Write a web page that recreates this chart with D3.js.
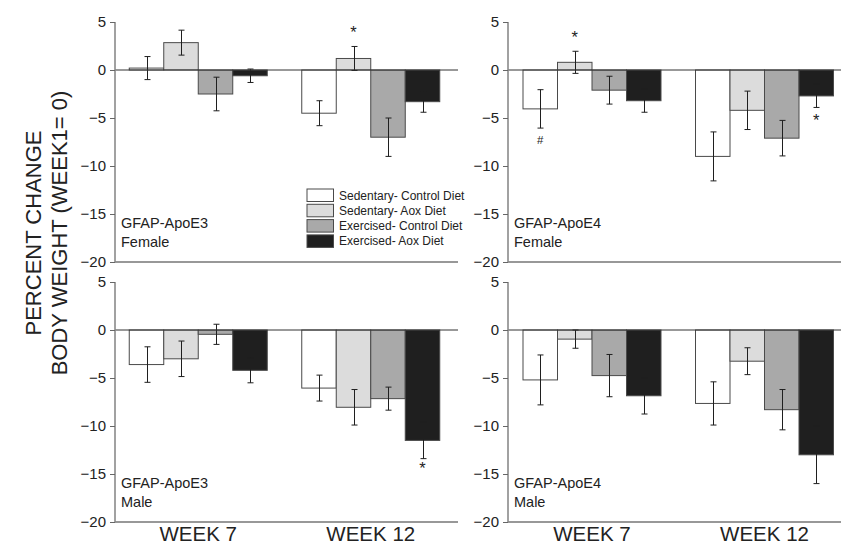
<!DOCTYPE html>
<html>
<head>
<meta charset="utf-8">
<script src="https://cdn.jsdelivr.net/npm/d3@7"></script>
<style>
  body { margin: 0; background: #fff; }
  svg { display: block; }
  text { font-family: "Liberation Sans", Arial, sans-serif; fill: #222; }
</style>
</head>
<body>
<svg id="chart" width="841" height="544"></svg>
<script>
// ---- data ---------------------------------------------------------------
const weeks = ["WEEK 7", "WEEK 12"];
const groups = ["Sedentary- Control Diet", "Sedentary- Aox Diet",
                "Exercised- Control Diet", "Exercised- Aox Diet"];
const groupColors = ["#ffffff", "#dcdcdc", "#a9a9a9", "#1f1f1f"];
const yTicks = [5, 0, -5, -10, -15, -20];

// mean percent change, one row per week, one entry per group
const e3FemaleMean = [[0.2, 2.85, -2.5, -0.6], [-4.5, 1.2, -7.0, -3.3]];
const e3FemaleSem  = [[1.2, 1.3, 1.75, 0.7], [1.3, 1.25, 2.0, 1.1]];
const e4FemaleMean = [[-4.05, 0.8, -2.1, -3.2], [-9.0, -4.2, -7.1, -2.7]];
const e4FemaleSem  = [[2.0, 1.15, 1.45, 1.2], [2.55, 2.0, 1.85, 1.2]];
const e3MaleMean   = [[-3.6, -3.0, -0.45, -4.2], [-6.05, -8.05, -7.15, -11.5]];
const e3MaleSem    = [[1.85, 1.85, 1.05, 1.3], [1.35, 1.85, 1.2, 1.9]];
const e4MaleMean   = [[-5.2, -0.95, -4.75, -6.85], [-7.65, -3.25, -8.3, -13.0]];
const e4MaleSem    = [[2.6, 0.95, 2.2, 1.9], [2.25, 1.4, 2.1, 3.0]];

const panelNames = ["GFAP-ApoE3\nFemale", "GFAP-ApoE4\nFemale",
                    "GFAP-ApoE3\nMale", "GFAP-ApoE4\nMale"];

// significance marks: panel index, week index, group index, symbol, y value
const marks = [
  [0, 1, 1, "*", 4.3],
  [1, 0, 0, "#", -7.3],
  [1, 0, 1, "*", 3.8],
  [1, 1, 3, "*", -4.9],
  [2, 1, 3, "*", -14.1]
];

// ---- layout -------------------------------------------------------------
const svg = d3.select("#chart");
const columns = [
  { axisX: 115, bandStart: 112, lineEnd: 458 },
  { axisX: 508, bandStart: 505.75, lineEnd: 841 }
];
const rows = [
  { top: 22, bottom: 262 },
  { top: 282, bottom: 522 }
];
const bandSpan = 345;

const panels = [
  { mean: e3FemaleMean, sem: e3FemaleSem, col: 0, row: 0 },
  { mean: e4FemaleMean, sem: e4FemaleSem, col: 1, row: 0 },
  { mean: e3MaleMean,   sem: e3MaleSem,   col: 0, row: 1 },
  { mean: e4MaleMean,   sem: e4MaleSem,   col: 1, row: 1 }
];

panels.forEach((p, pi) => {
  const c = columns[p.col], r = rows[p.row];
  const y = d3.scaleLinear().domain([-20, 5]).range([r.bottom, r.top]);
  const x0 = d3.scaleBand().domain(weeks)
    .range([c.bandStart, c.bandStart + bandSpan])
    .paddingInner(0.2).paddingOuter(0.1);
  const x1 = d3.scaleBand().domain(groups).range([0, x0.bandwidth()]);

  const g = svg.append("g");

  // bars
  weeks.forEach((w, wi) => {
    groups.forEach((grp, gi) => {
      const v = p.mean[wi][gi];
      const bx = x0(w) + x1(grp);
      g.append("rect")
        .attr("x", bx)
        .attr("y", y(Math.max(0, v)))
        .attr("width", x1.bandwidth())
        .attr("height", Math.abs(y(v) - y(0)))
        .attr("fill", groupColors[gi])
        .attr("stroke", "#4a4a4a")
        .attr("stroke-width", 1);
    });
  });

  // error bars
  weeks.forEach((w, wi) => {
    groups.forEach((grp, gi) => {
      const v = p.mean[wi][gi], e = p.sem[wi][gi];
      const cx = Math.round(x0(w) + x1(grp) + x1.bandwidth() / 2) + 0.5;
      const eg = g.append("g").attr("stroke", "#1f1f1f").attr("stroke-width", 1);
      eg.append("line").attr("x1", cx).attr("x2", cx)
        .attr("y1", y(v + e)).attr("y2", y(v - e));
      [v + e, v - e].forEach(val => {
        eg.append("line").attr("x1", cx - 3).attr("x2", cx + 3)
          .attr("y1", y(val)).attr("y2", y(val));
      });
    });
  });

  // zero line and bottom line
  g.append("line").attr("x1", c.axisX).attr("x2", c.lineEnd)
    .attr("y1", y(0)).attr("y2", y(0))
    .attr("stroke", "#333").attr("stroke-width", 1);
  g.append("line").attr("x1", c.axisX).attr("x2", c.lineEnd)
    .attr("y1", y(-20)).attr("y2", y(-20))
    .attr("stroke", "#333").attr("stroke-width", 1.2);

  // y axis
  const ax = g.append("g")
    .attr("transform", `translate(${c.axisX},0)`)
    .call(d3.axisLeft(y).tickValues(yTicks).tickSize(5).tickPadding(4)
      .tickFormat(d3.format("d")));
  ax.select(".domain").attr("stroke", "#8a8a8a").attr("stroke-width", 1.6)
    .attr("d", `M0,${r.top}V${r.bottom}`);
  ax.selectAll(".tick line").attr("stroke", "#666");
  ax.selectAll(".tick text").attr("font-size", 15)
    .attr("font-family", "Liberation Sans, Arial, sans-serif").attr("fill", "#222");

  // panel label
  const lbl = panelNames[pi].split("\n");
  g.append("text").attr("x", c.axisX + 6).attr("y", r.bottom - 34)
    .attr("font-size", 14.5).text(lbl[0]);
  g.append("text").attr("x", c.axisX + 6).attr("y", r.bottom - 15)
    .attr("font-size", 14.5).text(lbl[1]);

  // significance marks
  marks.filter(m => m[0] === pi).forEach(m => {
    const cx = x0(weeks[m[1]]) + x1(groups[m[2]]) + x1.bandwidth() / 2;
    const isStar = m[3] === "*";
    g.append("text").attr("x", cx).attr("y", y(m[4]) + (isStar ? 9 : 4))
      .attr("text-anchor", "middle")
      .attr("font-size", isStar ? 16.5 : 11.5)
      .text(m[3]);
  });

  // week labels on the bottom row
  if (p.row === 1) {
    weeks.forEach(w => {
      g.append("text").attr("x", x0(w) + x0.bandwidth() / 2).attr("y", 541)
        .attr("text-anchor", "middle").attr("font-size", 20.5).text(w);
    });
  }
});

// legend
const legend = svg.append("g").attr("transform", "translate(307,189)");
groups.forEach((grp, gi) => {
  const row = legend.append("g").attr("transform", `translate(0,${gi * 15.3})`);
  row.append("rect").attr("width", 26.5).attr("height", 12.5)
    .attr("fill", groupColors[gi]).attr("stroke", "#4a4a4a").attr("stroke-width", 1);
  row.append("text").attr("x", 32).attr("y", 10.5).attr("font-size", 12).text(grp);
});

// shared y-axis title
const title = svg.append("text")
  .attr("transform", "translate(0,233) rotate(-90)")
  .attr("text-anchor", "middle").attr("font-size", 22);
title.append("tspan").attr("x", 0).attr("y", 41).text("PERCENT CHANGE");
title.append("tspan").attr("x", 0).attr("y", 67).text("BODY WEIGHT (WEEK1= 0)");
</script>
</body>
</html>
